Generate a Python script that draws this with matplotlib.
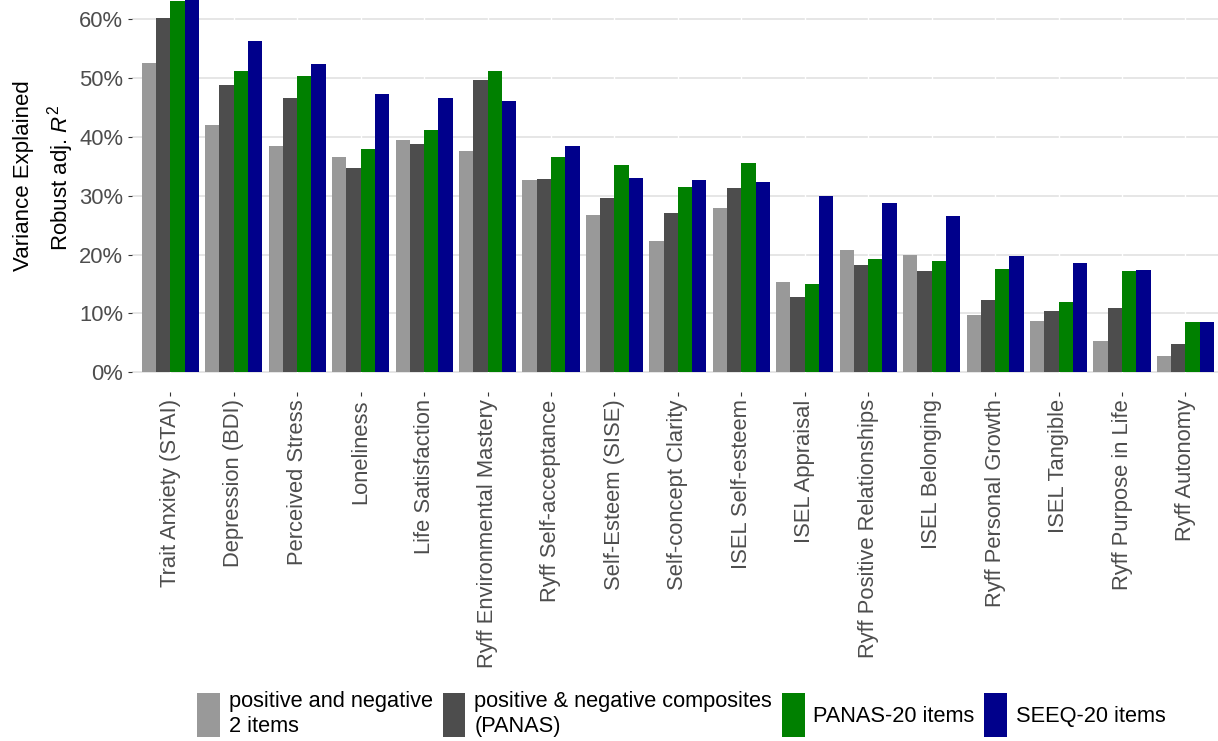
import matplotlib
matplotlib.use("Agg")
import matplotlib.pyplot as plt
from matplotlib.patches import Patch
import numpy as np

plt.rcParams["font.family"] = ["Liberation Sans", "DejaVu Sans"]
plt.rcParams["mathtext.fontset"] = "custom"
plt.rcParams["mathtext.rm"] = "Liberation Sans"
plt.rcParams["mathtext.it"] = "Liberation Sans:italic"

categories = [
    "Trait Anxiety (STAI)", "Depression (BDI)", "Perceived Stress", "Loneliness",
    "Life Satisfaction", "Ryff Environmental Mastery", "Ryff Self-acceptance",
    "Self-Esteem (SISE)", "Self-concept Clarity", "ISEL Self-esteem",
    "ISEL Appraisal", "Ryff Positive Relationships", "ISEL Belonging",
    "Ryff Personal Growth", "ISEL Tangible", "Ryff Purpose in Life", "Ryff Autonomy",
]

series_names = [
    "positive and negative\n2 items",
    "positive & negative composites\n(PANAS)",
    "PANAS-20 items",
    "SEEQ-20 items",
]

# robust adjusted R^2, in percent
two_items = [52.5, 42.0, 38.4, 36.6, 39.5, 37.6, 32.6, 26.7, 22.3, 27.9,
             15.4, 20.7, 20.0, 9.7, 8.7, 5.3, 2.8]
composites = [60.2, 48.9, 46.6, 34.8, 38.8, 49.6, 32.8, 29.7, 27.1, 31.3,
              12.8, 18.2, 17.2, 12.3, 10.5, 11.0, 4.8]
panas20 = [63.1, 51.2, 50.4, 37.9, 41.2, 51.2, 36.6, 35.3, 31.5, 35.6,
           15.0, 19.2, 18.9, 17.6, 11.9, 17.2, 8.5]
seeq20 = [66.0, 56.3, 52.4, 47.3, 46.6, 46.1, 38.4, 33.0, 32.6, 32.3,
          30.0, 28.7, 26.6, 19.8, 18.5, 17.4, 8.5]

colors = ["#999999", "#4D4D4D", "#008000", "#00008B"]
y_ticks = [0, 10, 20, 30, 40, 50, 60]

W, H = 1218, 741
fig = plt.figure(figsize=(W / 100, H / 100), dpi=100)

left_px, right_px = 132.2, 1218.0
bottom_px, top_px = 391.7, -37.2
ax = fig.add_axes([left_px / W, 1 - bottom_px / H,
                   (right_px - left_px) / W, (bottom_px - top_px) / H])

x = np.arange(1, len(categories) + 1)
width = 0.225
offsets = [-1.5 * width, -0.5 * width, 0.5 * width, 1.5 * width]
all_series = [two_items, composites, panas20, seeq20]

for vals, off, col in zip(all_series, offsets, colors):
    ax.bar(x + off, vals, width=width, color=col, zorder=2, linewidth=0)

# panel grid
for t in y_ticks:
    ax.axhline(t, color="#E2E2E2", lw=1.2, zorder=0.5)
for xi in x:
    ax.axvline(xi, color="white", lw=1.0, zorder=0.8)

ax.set_xlim(0.4, 0.4 + (right_px - left_px) / 63.45)
ax.set_ylim(-3.3, 69.6)

ax.set_yticks(y_ticks)
ax.set_yticklabels([f"{t}%" for t in y_ticks])
ax.set_xticks(x)
ax.set_xticklabels(categories, rotation=90)

for s in ax.spines.values():
    s.set_visible(False)

ax.tick_params(axis="both", direction="out", length=3.0, width=0.8,
               color="#333333", labelcolor="#4D4D4D", labelsize=15.8)
ax.tick_params(axis="y", pad=3.5)
ax.tick_params(axis="x", pad=2.5)

# two-line y-axis title
fig.text(29.0 / W, 1 - 176 / H, "Variance Explained", rotation=90,
         rotation_mode="anchor", ha="center", va="baseline",
         fontsize=16, color="black")
fig.text(67.0 / W, 1 - 178 / H, r"Robust adj. $\it{R}^2$", rotation=90,
         rotation_mode="anchor", ha="center", va="baseline",
         fontsize=16, color="black")

handles = [Patch(facecolor=c, edgecolor="none") for c in colors]
leg = fig.legend(handles, series_names, loc="center",
                 bbox_to_anchor=(681.5 / W, 1 - 714 / H),
                 bbox_transform=fig.transFigure, ncol=4, frameon=False,
                 fontsize=15.7, handlelength=1.05, handleheight=2.7,
                 handletextpad=0.4, columnspacing=0.45, borderpad=0,
                 borderaxespad=0)
for t in leg.get_texts():
    t.set_linespacing(1.24)

fig.savefig("out.png", dpi=100)
